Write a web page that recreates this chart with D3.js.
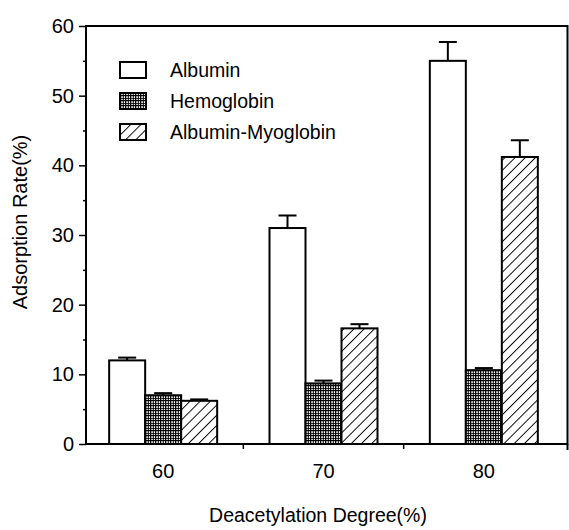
<!DOCTYPE html>
<html>
<head>
<meta charset="utf-8">
<script src="https://cdn.jsdelivr.net/npm/d3@7"></script>
<style>
  html, body { margin: 0; padding: 0; background: #fff; }
  svg { display: block; font-family: "Liberation Sans", Arial, sans-serif; }
</style>
</head>
<body>
<svg id="chart" width="569" height="530"></svg>
<script>
// ---- data ----
const categories = ["60", "70", "80"];
const seriesNames = ["Albumin", "Hemoglobin", "Albumin-Myoglobin"];
const albumin = [12.0, 31.0, 55.0];
const albuminErr = [0.4, 1.8, 2.7];
const hemoglobin = [7.0, 8.7, 10.6];
const hemoglobinErr = [0.3, 0.4, 0.3];
const albMyo = [6.2, 16.6, 41.2];
const albMyoErr = [0.2, 0.6, 2.4];
const yTicks = [0, 10, 20, 30, 40, 50, 60];
const yMinorTicks = [5, 15, 25, 35, 45, 55];
const xTitle = "Deacetylation Degree(%)";
const yTitle = "Adsorption Rate(%)";

(function () {
const values = [albumin, hemoglobin, albMyo];
const errors = [albuminErr, hemoglobinErr, albMyoErr];

const svg = d3.select("#chart");
const pLeft = 86, pRight = 567.5, pTop = 26, pBottom = 444;

const defs = svg.append("defs");
// diagonal hatch
const hatch = defs.append("pattern")
  .attr("id", "hatch").attr("patternUnits", "userSpaceOnUse")
  .attr("width", 7.2).attr("height", 7.2)
  .attr("patternTransform", "rotate(45)");
hatch.append("rect").attr("width", 7.2).attr("height", 7.2).attr("fill", "#fff");
hatch.append("line").attr("x1", 0).attr("y1", 0).attr("x2", 0).attr("y2", 7.2)
  .attr("stroke", "#000").attr("stroke-width", 1.9);
// hemoglobin dense mesh
const mesh = defs.append("pattern")
  .attr("id", "mesh").attr("patternUnits", "userSpaceOnUse")
  .attr("width", 5).attr("height", 5);
mesh.append("rect").attr("width", 5).attr("height", 5).attr("fill", "#fff");
mesh.append("rect").attr("x", 0).attr("y", 0).attr("width", 1.3).attr("height", 5).attr("fill", "#000");
mesh.append("rect").attr("x", 2.8).attr("y", 0).attr("width", 1).attr("height", 5).attr("fill", "#000");
mesh.append("rect").attr("x", 0).attr("y", 0).attr("width", 5).attr("height", 1.2).attr("fill", "#000");
mesh.append("rect").attr("x", 0).attr("y", 3).attr("width", 5).attr("height", 0.8).attr("fill", "#000");

const fills = ["#fff", "url(#mesh)", "url(#hatch)"];

const x = d3.scaleBand().domain(categories).range([83, 564]).padding(0);
const y = d3.scaleLinear().domain([0, 60]).range([pBottom, pTop]);
const barW = 36;
const offsets = [-1.5, -0.5, 0.5];

// bars
seriesNames.forEach((name, si) => {
  const g = svg.append("g");
  g.selectAll("rect").data(categories).join("rect")
    .attr("x", d => x(d) + x.bandwidth() / 2 + offsets[si] * barW)
    .attr("y", (d, i) => y(values[si][i]))
    .attr("width", barW)
    .attr("height", (d, i) => y(0) - y(values[si][i]))
    .attr("fill", fills[si])
    .attr("stroke", "#000").attr("stroke-width", 2);
  // error bars (upper only)
  categories.forEach((c, i) => {
    const cx = x(c) + x.bandwidth() / 2 + (offsets[si] + 0.5) * barW;
    const y1 = y(values[si][i]), y2 = y(values[si][i] + errors[si][i]);
    g.append("line").attr("x1", cx).attr("x2", cx).attr("y1", y1).attr("y2", y2)
      .attr("stroke", "#000").attr("stroke-width", 2);
    g.append("line").attr("x1", cx - 9).attr("x2", cx + 9).attr("y1", y2).attr("y2", y2)
      .attr("stroke", "#000").attr("stroke-width", 2);
  });
});

// frame
svg.append("rect").attr("x", pLeft).attr("y", pTop)
  .attr("width", pRight - pLeft).attr("height", pBottom - pTop)
  .attr("fill", "none").attr("stroke", "#000").attr("stroke-width", 2);

// y axis
const yAxis = d3.axisLeft(y).tickValues(yTicks).tickSize(7).tickPadding(5).tickFormat(d3.format("d"));
const ya = svg.append("g").attr("transform", `translate(${pLeft},0)`).call(yAxis);
ya.select(".domain").remove();
ya.selectAll("line").attr("stroke", "#000").attr("stroke-width", 1.5);
ya.selectAll("text").attr("font-size", 20).attr("fill", "#000")
  .attr("font-family", "Liberation Sans, Arial, sans-serif");
const yMinor = d3.axisLeft(y).tickValues(yMinorTicks).tickSize(3).tickFormat("");
const ym = svg.append("g").attr("transform", `translate(${pLeft},0)`).call(yMinor);
ym.select(".domain").remove();
ym.selectAll("line").attr("stroke", "#000").attr("stroke-width", 1.5);

// x axis
const xAxis = d3.axisBottom(x).tickSize(0).tickPadding(20);
const xa = svg.append("g").attr("transform", `translate(0,${pBottom})`).call(xAxis);
xa.select(".domain").remove();
xa.selectAll("text").attr("font-size", 20).attr("fill", "#000")
  .attr("font-family", "Liberation Sans, Arial, sans-serif");
// boundary ticks between groups
const bounds = categories.slice(1).map(c => x(c));
svg.append("g").selectAll("line").data(bounds).join("line")
  .attr("x1", d => d).attr("x2", d => d)
  .attr("y1", pBottom).attr("y2", pBottom + 5)
  .attr("stroke", "#000").attr("stroke-width", 1.5);
svg.append("line").attr("x1", pRight).attr("x2", pRight).attr("y1", pBottom).attr("y2", pBottom + 6)
  .attr("stroke", "#000").attr("stroke-width", 2);

// titles
svg.append("text").attr("x", 318).attr("y", 522).attr("text-anchor", "middle")
  .attr("font-size", 19.5).text(xTitle);
svg.append("text").attr("transform", "translate(27,222) rotate(-90)")
  .attr("text-anchor", "middle").attr("font-size", 20).text(yTitle);

// legend
const leg = svg.append("g");
seriesNames.forEach((name, i) => {
  const ty = 62 + i * 31;
  leg.append("rect").attr("x", 120).attr("y", ty).attr("width", 26).attr("height", 16)
    .attr("fill", fills[i]).attr("stroke", "#000").attr("stroke-width", 2);
  leg.append("text").attr("x", 170).attr("y", ty + 15).attr("font-size", 19.5).text(name);
});
})();
</script>
</body>
</html>
